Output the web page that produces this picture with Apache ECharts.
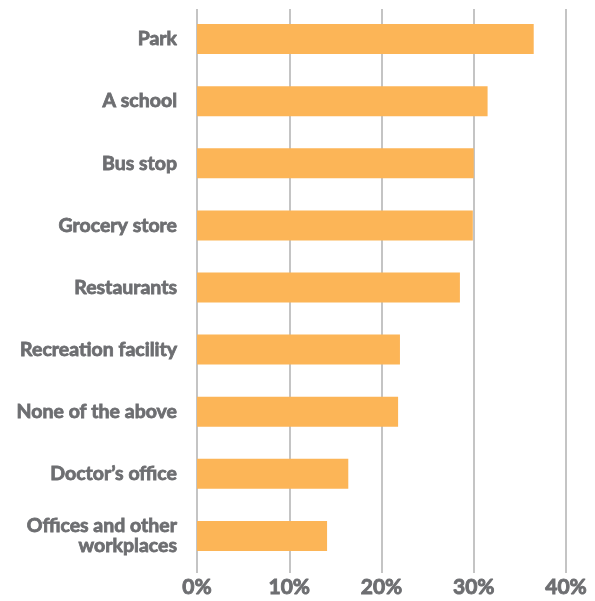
<!DOCTYPE html>
<html>
<head>
<meta charset="utf-8">
<script src="https://cdn.jsdelivr.net/npm/echarts@6/dist/echarts.min.js"></script>
<style>
html,body{margin:0;padding:0;background:#fff;}
#chart{width:595px;height:601px;}
</style>
</head>
<body>
<div id="chart"></div>
<script>
var categories = ["Park", "A school", "Bus stop", "Grocery store", "Restaurants", "Recreation facility", "None of the above", "Doctor\u2019s office", "Offices and other\nworkplaces"];
var values = [36.5, 31.5, 30.0, 29.9, 28.5, 22.0, 21.8, 16.4, 14.1];
var xTicks = [0, 10, 20, 30, 40];

var chart = echarts.init(document.getElementById('chart'));
chart.setOption({
  animation: false,
  grid: [
    {left: 197, right: 29, top: 9, bottom: 28, containLabel: false},
    {left: 197, right: 29, top: 8, bottom: 34, containLabel: false}
  ],
  xAxis: [{
    gridIndex: 0, type: 'value', min: 0, max: 40, interval: 10,
    axisLine: {show: false}, axisTick: {show: false},
    splitLine: {show: true, lineStyle: {color: '#c4c4c4', width: 2}},
    axisLabel: {
      formatter: function(v){ return xTicks.indexOf(v) >= 0 ? v + '%' : ''; },
      color: '#6d6e71', fontFamily: 'Lato', fontWeight: 'bold', fontSize: 21, margin: 4,
      textBorderColor: '#6d6e71', textBorderWidth: 0.9
    }
  }, {
    gridIndex: 1, type: 'value', min: 0, max: 40, interval: 10, show: false
  }],
  yAxis: [{
    gridIndex: 0, type: 'value', show: false
  }, {
    gridIndex: 1, type: 'category', data: categories, inverse: true,
    axisLine: {show: false}, axisTick: {show: false},
    axisLabel: {color: '#6d6e71', fontFamily: 'Lato', fontWeight: 'bold', fontSize: 19.5, margin: 20, lineHeight: 20, align: 'right',
      textBorderColor: '#6d6e71', textBorderWidth: 0.8}
  }],
  series: [{
    type: 'bar', xAxisIndex: 1, yAxisIndex: 1, data: values, barWidth: 30,
    itemStyle: {color: '#fcb557'}
  }]
});
</script>
</body>
</html>
